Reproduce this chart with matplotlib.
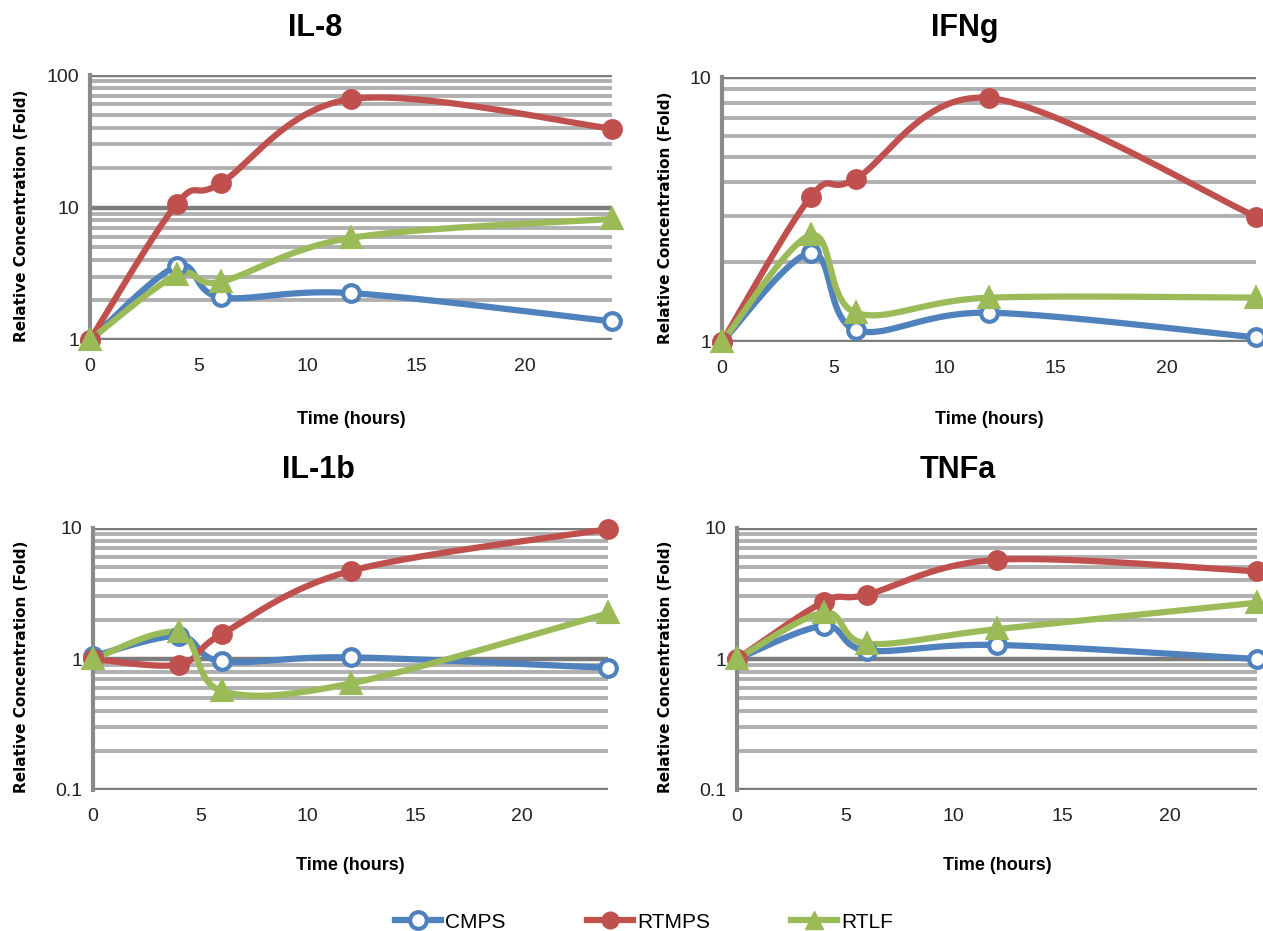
import numpy as np
import matplotlib
matplotlib.use("Agg")
import matplotlib.pyplot as plt
from matplotlib.lines import Line2D
from matplotlib.ticker import LogLocator, FixedLocator, NullFormatter

plt.rcParams["font.family"] = ["Liberation Sans Narrow", "Liberation Sans", "DejaVu Sans"]

hours = [0, 4, 6, 12, 24]
series_names = ["CMPS", "RTMPS", "RTLF"]

il8_cmps = [1.0, 3.6, 2.1, 2.26, 1.38]
il8_rtmps = [1.0, 10.7, 15.2, 65.8, 39.4]
il8_rtlf = [1.0, 3.1, 2.75, 5.9, 8.2]

ifng_cmps = [1.0, 2.17, 1.11, 1.29, 1.04]
ifng_rtmps = [1.0, 3.54, 4.12, 8.33, 2.97]
ifng_rtlf = [1.0, 2.53, 1.29, 1.47, 1.47]

il1b_cmps = [1.05, 1.50, 0.96, 1.03, 0.855]
il1b_rtmps = [1.0, 0.906, 1.55, 4.7, 9.8]
il1b_rtlf = [1.0, 1.60, 0.57, 0.65, 2.23]

tnfa_cmps = [1.0, 1.79, 1.16, 1.28, 1.0]
tnfa_rtmps = [1.0, 2.73, 3.1, 5.72, 4.67]
tnfa_rtlf = [1.0, 2.26, 1.31, 1.69, 2.69]

panels = [
    ("IL-8", (il8_cmps, il8_rtmps, il8_rtlf), (1, 100)),
    ("IFNg", (ifng_cmps, ifng_rtmps, ifng_rtlf), (1, 10)),
    ("IL-1b", (il1b_cmps, il1b_rtmps, il1b_rtlf), (0.1, 10)),
    ("TNFa", (tnfa_cmps, tnfa_rtmps, tnfa_rtlf), (0.1, 10)),
]

colors = ["#4F81BD", "#C0504D", "#9BBB59"]

W, H = 1263, 931
# plot-area boxes in pixels: left, top, right, bottom
boxes = [
    (90, 75, 612, 340),
    (722, 77, 1256, 342),
    (93, 528, 608, 790),
    (737, 528, 1257, 790),
]
title_pos = [(315, 28), (965, 28), (318, 470), (958, 470)]
ylab_x = [22, 665, 22, 665]
xlab_y = [420, 420, 866, 866]


def smooth(x, y, n=40):
    # Excel style smoothed line: Catmull-Rom through (x, log y)
    x = np.asarray(x, float)
    ly = np.log10(np.asarray(y, float))
    px = np.concatenate([[x[0]], x, [x[-1]]])
    py = np.concatenate([[ly[0]], ly, [ly[-1]]])
    out_x, out_y = [], []
    t = np.linspace(0, 1, n)
    for i in range(1, len(px) - 2):
        p0, p1, p2, p3 = [np.array([px[j], py[j]]) for j in (i - 1, i, i + 1, i + 2)]
        c1 = p1 + (p2 - p0) / 6
        c2 = p2 - (p3 - p1) / 6
        pts = ((1 - t) ** 3)[:, None] * p1 + (3 * (1 - t) ** 2 * t)[:, None] * c1 \
            + (3 * (1 - t) * t ** 2)[:, None] * c2 + (t ** 3)[:, None] * p2
        out_x.extend(pts[:, 0])
        out_y.extend(pts[:, 1])
    return np.array(out_x), 10 ** np.array(out_y)


fig = plt.figure(figsize=(W / 100, H / 100), dpi=100)

for k, (name, data, ylim) in enumerate(panels):
    l, t, r, b = boxes[k]
    ax = fig.add_axes([l / W, 1 - b / H, (r - l) / W, (b - t) / H])
    ax.set_yscale("log")
    ax.set_ylim(*ylim)
    ax.set_xlim(0, 24)

    ax.yaxis.set_major_locator(LogLocator(base=10, numticks=10))
    ax.yaxis.set_minor_locator(LogLocator(base=10, subs=np.arange(2, 10), numticks=20))
    ax.yaxis.set_minor_formatter(NullFormatter())
    ax.yaxis.set_major_formatter(matplotlib.ticker.FuncFormatter(lambda v, p: f"{v:g}"))
    ax.xaxis.set_major_locator(FixedLocator([0, 5, 10, 15, 20]))

    ax.grid(True, which="minor", axis="y", color="#b0b0b0", linewidth=2.8)
    ax.grid(True, which="major", axis="y", color="#7c7c7c", linewidth=3.2)
    ax.set_axisbelow(True)

    for s in ["top", "right", "bottom"]:
        ax.spines[s].set_visible(False)
    ax.spines["left"].set_color("#8a8a8a")
    ax.spines["left"].set_linewidth(3)

    ax.tick_params(axis="both", which="both", length=0, labelsize=14, colors="#222222")
    ax.tick_params(axis="x", pad=13)
    ax.tick_params(axis="y", pad=8)

    for vals, c, m in zip(data, colors, ["o", "o", "^"]):
        sx, sy = smooth(hours, vals)
        ax.plot(sx, sy, color=c, linewidth=4.5, solid_capstyle="round", clip_on=False, zorder=3)
        face = "white" if m == "o" and c == colors[0] else c
        ax.plot(hours, vals, linestyle="none", marker=m, markersize=12 if m == "o" else 13,
                markerfacecolor=face, markeredgecolor=c, markeredgewidth=3,
                clip_on=False, zorder=4)

    tx, ty = title_pos[k]
    fig.text(tx / W, 1 - ty / H, name, ha="center", va="center",
             fontsize=22, fontweight="bold")
    fig.text(ylab_x[k] / W, 1 - ((t + b) / 2 + 8) / H, "Relative Concentration (Fold)",
             rotation=90, ha="center", va="center", fontsize=11,
             fontweight="bold", family=["DejaVu Sans"])
    fig.text(((l + r) / 2) / W, 1 - xlab_y[k] / H, "Time (hours)", ha="center",
             va="center", fontsize=13, fontweight="bold")

handles = [
    Line2D([], [], color=colors[0], linewidth=4.5, marker="o", markersize=12,
           markerfacecolor="white", markeredgecolor=colors[0], markeredgewidth=3),
    Line2D([], [], color=colors[1], linewidth=4.5, marker="o", markersize=12,
           markerfacecolor=colors[1], markeredgecolor=colors[1]),
    Line2D([], [], color=colors[2], linewidth=4.5, marker="^", markersize=13,
           markerfacecolor=colors[2], markeredgecolor=colors[2]),
]
fig.legend(handles, series_names, loc="center", bbox_to_anchor=(0.51, 1 - 922 / H),
           ncol=3, frameon=False, fontsize=15, handlelength=2.2, columnspacing=3.9,
           handletextpad=0.2)

fig.savefig("out.png", dpi=100)
